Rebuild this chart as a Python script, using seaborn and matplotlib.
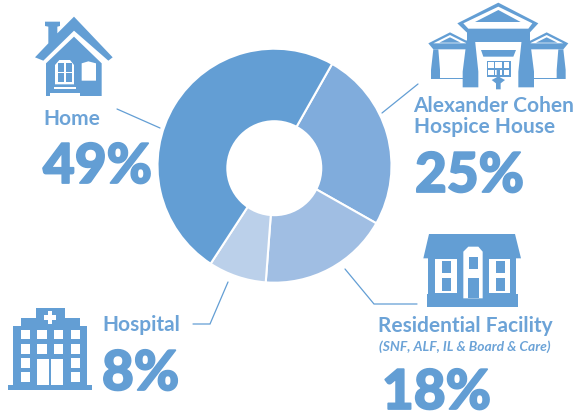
import matplotlib
matplotlib.use("Agg")
import matplotlib.pyplot as plt
import matplotlib.patheffects as pe
from matplotlib.patches import Polygon, Circle
import seaborn as sns

categories = ["Alexander Cohen Hospice House", "Residential Facility", "Hospital", "Home"]
shares = [25, 18, 8, 49]
slice_colors = ["#80ACDC", "#A0BEE3", "#BBD0EA", "#639ED4"]
BLUE = "#639ED4"
LABEL = "#6CA3D7"

sns.set_theme(style="white")
plt.rcParams["font.family"] = ["Lato", "DejaVu Sans"]

W, H = 577, 415
fig = plt.figure(figsize=(W / 100, H / 100), dpi=100, facecolor="white")

# doughnut: full pie, the hole is laid on top in the overlay
cx, cy, R = 274.5, 165.7, 117.0
pie_ax = fig.add_axes([(cx - R) / W, 1 - (cy + R) / H, 2 * R / W, 2 * R / H])
pie_ax.pie(shares, colors=slice_colors, startangle=60.5, counterclock=False, radius=1,
           wedgeprops=dict(edgecolor="white", linewidth=1.5))
pie_ax.set_xlim(-1, 1)
pie_ax.set_ylim(-1, 1)
pie_ax.set_axis_off()

# overlay in pixel coordinates
ax = fig.add_axes([0, 0, 1, 1], facecolor="none")
ax.set_xlim(0, W)
ax.set_ylim(H, 0)
ax.set_axis_off()
ax.add_patch(Circle((274.3, 168.2), 48, fc="white", ec="none"))


def poly(pts, ox=0, oy=0, c=BLUE, mirror=None):
    out = []
    for x, y in pts:
        if mirror is not None:
            x = mirror - x
        out.append((ox + x / 3, oy + y / 3))
    ax.add_patch(Polygon(out, closed=True, fc=c, ec="none"))


def rect(x0, y0, x1, y1, ox=0, oy=0, c=BLUE, mirror=None):
    poly([(x0, y0), (x1, y0), (x1, y1), (x0, y1)], ox, oy, c, mirror)


# leader lines
for xs, ys in [([117, 160], [109, 128]),
               ([418, 382], [84, 113]),
               ([345, 374, 417], [269, 304, 304]),
               ([193, 210, 228], [324, 324, 282])]:
    ax.plot(xs, ys, color=BLUE, lw=0.9, solid_joinstyle="miter")

# home icon
poly([(222, 50), (338, 172), (325, 182), (222, 92), (130, 182), (105, 172), (145, 130),
      (145, 80), (135, 78), (135, 65), (180, 65), (180, 78), (172, 80), (172, 100)])
poly([(138, 190), (222, 110), (305, 190), (305, 288), (138, 288)])
poly([(165, 253), (165, 195), (178, 180), (210, 180), (222, 195), (222, 253)], c="white")
for a, b, d, e in [(175, 190, 192, 215), (197, 190, 215, 215), (175, 220, 192, 246), (197, 220, 215, 246)]:
    rect(a, b, d, e)
poly([(245, 242), (245, 190), (265, 184), (288, 190), (288, 242)], c="white")
rect(163, 260, 227, 268, c="white")
rect(150, 278, 240, 287, c="white")

# hospice icon
o = (400, 0)
poly([(295, 8), (415, 70), (390, 97), (200, 97), (172, 70)], *o)
poly([(295, 20), (397, 70), (385, 86), (205, 86), (190, 70)], *o, c="white")
poly([(295, 30), (362, 66), (225, 66)], *o)
rect(200, 95, 390, 125, *o)
for m in (None, 590):
    poly([(85, 130), (150, 97), (205, 125), (205, 148), (100, 148)], *o, mirror=m)
    poly([(100, 130), (150, 105), (200, 130)], *o, c="white", mirror=m)
    poly([(118, 128), (150, 112), (182, 128)], *o, mirror=m)
    poly([(200, 120), (225, 120), (235, 215), (235, 262), (188, 262), (188, 215)], *o, mirror=m)
    poly([(100, 148), (115, 148), (120, 210), (120, 237), (93, 237), (93, 210)], *o, mirror=m)
    rect(120, 233, 190, 238, *o, mirror=m)
poly([(243, 150), (348, 150), (340, 170), (250, 170)], *o)
rect(260, 182, 333, 230, *o)
for a, b in [(265, 281), (286, 306), (311, 328)]:
    rect(a, 187, b, 205, *o, c="white")
    rect(a, 210, b, 225, *o, c="white")
poly([(290, 205), (300, 205), (300, 232), (315, 240), (302, 250), (302, 268), (288, 268),
      (288, 250), (275, 240), (290, 232)], *o)

# residential icon
o = (360, 225)
poly([(207, 27), (465, 27), (483, 100), (190, 100)], *o)
rect(205, 100, 468, 210, *o)
rect(200, 207, 473, 245, *o)
rect(225, 102, 292, 205, *o, c="white")
rect(388, 102, 450, 205, *o, c="white")
for a, b in [(245, 273), (408, 435)]:
    rect(a, 108, b, 145, *o)
    rect(a, 160, b, 197, *o)
poly([(310, 220), (310, 80), (325, 65), (355, 65), (368, 80), (368, 220)], *o, c="white")
rect(327, 95, 355, 133, *o)
rect(323, 158, 358, 220, *o)

# hospital icon
o = (0, 290)
rect(24, 285, 276, 300, *o)
rect(40, 108, 260, 286, *o)
rect(62, 83, 240, 110, *o)
rect(107, 55, 195, 85, *o)
rect(144, 64, 156, 101, *o, c="white")
rect(132, 76, 168, 89, *o, c="white")
cols = [(62, 90), (112, 140), (162, 190), (212, 240)]
rows = [(120, 148), (162, 192), (205, 235), (247, 277)]
for i, (a, b) in enumerate(cols):
    for j, (d, e) in enumerate(rows):
        if i in (1, 2) and j >= 2:
            continue
        rect(a, d, b, e, *o, c="white")
rect(112, 208, 148, 285, *o, c="white")
rect(152, 208, 190, 285, *o, c="white")


def label(x, y, s, size=15, weight="bold", color=LABEL, style="normal", stroke=0.0):
    t = ax.text(x, y, s, fontsize=size, fontweight=weight, color=color, style=style,
                ha="left", va="baseline")
    if stroke:
        t.set_path_effects([pe.withStroke(linewidth=stroke, foreground=color)])


def pct(x, y, s):
    label(x, y, s, size=39.5, weight=900, color=BLUE, stroke=1.3)


label(43, 125, "Home")
pct(43, 183, "49%")
label(413.5, 112, "Alexander Cohen")
label(413.5, 133, "Hospice House")
pct(415, 192, "25%")
label(378.5, 332, "Residential Facility")
label(379, 351, "(SNF, ALF, IL & Board & Care)", size=10, style="italic")
pct(382, 409, "18%")
label(102, 331, "Hospital")
pct(102, 390, "8%")

fig.savefig("out.png", dpi=100, facecolor="white")
